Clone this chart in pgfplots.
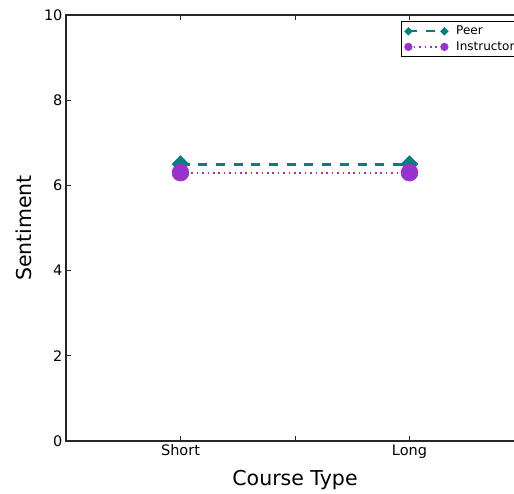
\documentclass[border=0pt]{standalone}
\usepackage{pgfplots}
\pgfplotsset{compat=1.18}
\usepackage{fontspec}
\setmainfont{DejaVu Sans}
\definecolor{peer}{RGB}{0,128,128}
\definecolor{instr}{RGB}{153,50,204}
\begin{document}
\begin{tikzpicture}[x=1pt,y=1pt]
\begin{axis}[
  at={(0,0)}, anchor=south west,
  scale only axis, width=458pt, height=426pt,
  xmin=-0.5, xmax=1.5, ymin=0, ymax=10,
  xtick={0,0.5,1}, xticklabels={Short,,Long},
  ytick={0,2,...,10},
  tick align=inside, major tick length=5pt,
  axis line style={line width=1.2pt, black!85},
  tick style={line width=1pt, black!85},
  ticklabel style={font=\fontsize{14.5}{17}\selectfont},
  /pgf/number format/assume math mode=true,
  xlabel={Course Type}, ylabel={Sentiment},
  label style={font=\fontsize{20.5}{24}\selectfont},
  xlabel style={at={(axis description cs:0.5,-0.0915)}, anchor=center},
  ylabel style={at={(axis description cs:-0.0917,0.5)}, anchor=center},
  legend style={at={(rel axis cs:0.989,0.986)}, anchor=north east,
    draw=black, line width=1pt, font=\fontsize{12}{14}\selectfont,
    inner xsep=3pt, inner ysep=3pt, row sep=2pt, column sep=7pt,
    nodes={inner sep=1pt, text height=9pt, text depth=2.6pt}},
  legend cell align=left,
  legend image code/.code={%
    \draw[every mark/.append style={scale=0.45}, line width=2pt]
      plot coordinates {(0pt,0pt) (36pt,0pt)};},
]
% Peer feedback: dashed teal line with diamond markers
\addplot[peer, line width=3pt, dash pattern=on 9pt off 8.7pt,
  mark=square*, mark size=6pt,
  mark options={solid, rotate=45, fill=peer, line width=0.5pt}]
  coordinates {(0,6.5) (1,6.5)};
% Instructor feedback: dotted purple line with round markers
\addplot[instr, line width=2.2pt, dash pattern=on 1.6pt off 3.8pt,
  mark=*, mark size=8.5pt,
  mark options={solid, fill=instr, line width=0.5pt}]
  coordinates {(0,6.3) (1,6.3)};
\legend{Peer, Instructor}
\end{axis}
\pgfresetboundingbox
\path (-66,-52) rectangle (448,441);
\end{tikzpicture}
\end{document}
